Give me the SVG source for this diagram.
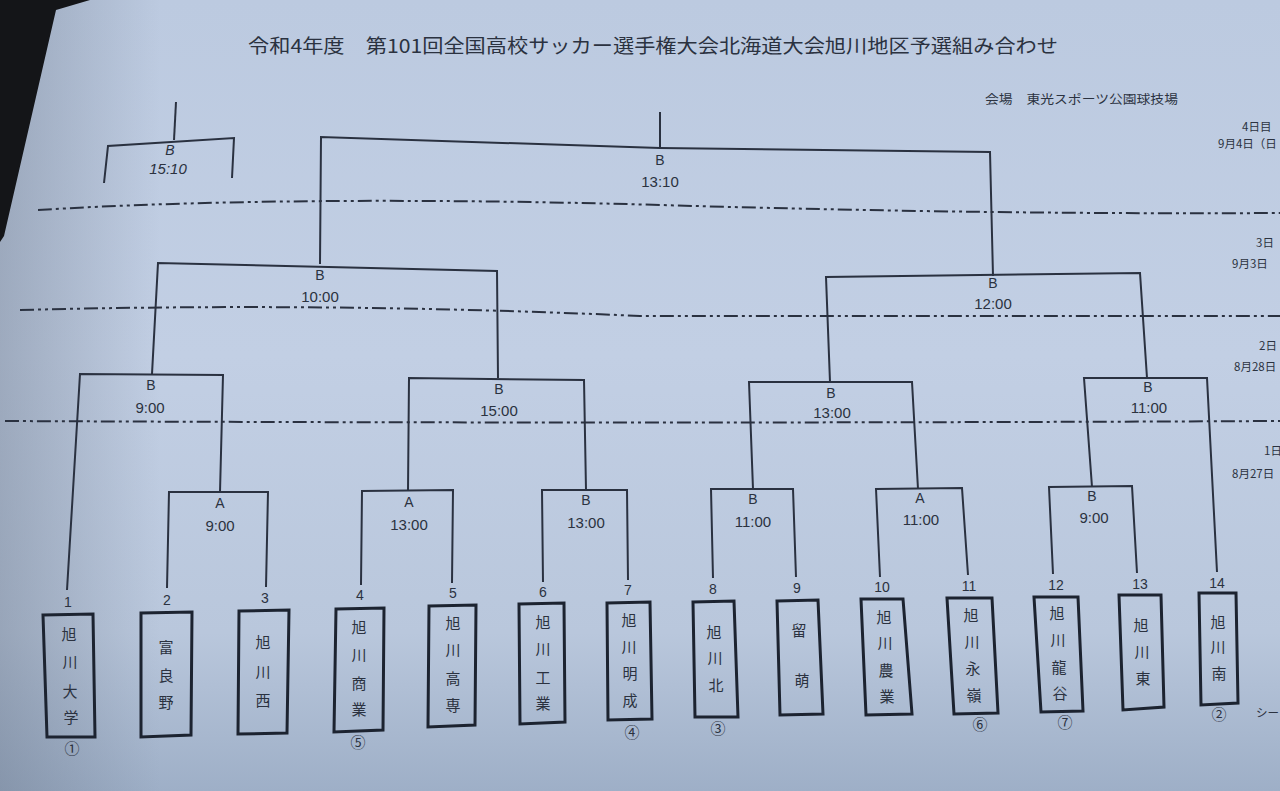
<svg xmlns="http://www.w3.org/2000/svg" width="1280" height="791" viewBox="0 0 1280 791">
<defs>
<linearGradient id="paper" x1="0" y1="0" x2="0" y2="1">
<stop offset="0" stop-color="#bccae0"/>
<stop offset="0.45" stop-color="#c2cfe4"/>
<stop offset="0.8" stop-color="#b9c7dc"/>
<stop offset="1" stop-color="#9eafc7"/>
</linearGradient>
<linearGradient id="leftshade" x1="0" y1="0" x2="1" y2="0">
<stop offset="0" stop-color="#5a6678" stop-opacity="0.35"/>
<stop offset="1" stop-color="#5a6678" stop-opacity="0"/>
</linearGradient>
<style>
.ln{fill:none;stroke:#2a3140;stroke-width:2;stroke-linejoin:miter}
.dd{fill:none;stroke:#2a3140;stroke-width:2;stroke-dasharray:14 4 3 4 3 4}
.box{fill:none;stroke:#1c2330;stroke-width:3}
.lbl{font-family:"Liberation Sans","Noto Sans CJK JP",sans-serif;font-size:14px;fill:#2b3240;text-anchor:middle}
.tm{font-family:"Liberation Sans","Noto Sans CJK JP",sans-serif;font-size:15px;fill:#2b3240;text-anchor:middle}
.num{font-family:"Liberation Sans","Noto Sans CJK JP",sans-serif;font-size:14px;fill:#2b3240;text-anchor:middle}
.jp{font-family:"Noto Sans CJK JP",sans-serif;font-size:15px;fill:#2b3240;text-anchor:middle}
.side{font-family:"Noto Sans CJK JP",sans-serif;font-size:11.5px;fill:#2b3240}
</style>
</defs>
<rect x="0" y="0" width="1280" height="791" fill="url(#paper)"/>
<rect x="0" y="0" width="160" height="791" fill="url(#leftshade)"/>
<polygon points="0,0 90,0 56,10 4,236 0,242" fill="#141518"/>

<g id="title">
<text x="248" y="53" font-family="Noto Sans CJK JP, sans-serif" font-size="19" fill="#2b3240" textLength="810" lengthAdjust="spacingAndGlyphs">令和4年度　第101回全国高校サッカー選手権大会北海道大会旭川地区予選組み合わせ</text>
<text x="985" y="104" font-family="Noto Sans CJK JP, sans-serif" font-size="12.5" fill="#2b3240" textLength="193" lengthAdjust="spacingAndGlyphs">会場　東光スポーツ公園球技場</text>
</g>

<g id="days">
<text class="side" x="1242" y="131">4日目</text>
<text class="side" x="1218" y="148">9月4日（日</text>
<text class="side" x="1256" y="247">3日</text>
<text class="side" x="1232" y="268">9月3日</text>
<text class="side" x="1259" y="350">2日</text>
<text class="side" x="1234" y="371">8月28日</text>
<text class="side" x="1264" y="455">1日</text>
<text class="side" x="1232" y="478">8月27日</text>
<text class="side" x="1256" y="717">シー</text>
</g>

<g id="dividers">
<path class="dd" d="M38,210 C200,200 420,198 660,205 S1100,214 1280,213"/>
<path class="dd" d="M20,310 Q330,302 640,316 L1280,316"/>
<path class="dd" d="M5,421 Q640,424 1280,421"/>
</g>

<g id="connectors">
<path class="ln" d="M176,102 L174,140"/>
<path class="ln" d="M104,183 L108,146 L234,138 L232,178"/>
<path class="ln" d="M660,112 L660,148"/>
<path class="ln" d="M320,264 L321,137 L660,148 L990,152 L993,276"/>
<path class="ln" d="M152,374 L158,263 L497,271 L498,378"/>
<path class="ln" d="M830,382 L826,277 L1140,273 L1147,378"/>
<path class="ln" d="M67,590 L80,374 L223,375 L220,492"/>
<path class="ln" d="M167,588 L169,492 L268,492 L266,587"/>
<path class="ln" d="M408,491 L409,378 L584,380 L586,490"/>
<path class="ln" d="M361,585 L362,491 L453,490 L452,583"/>
<path class="ln" d="M543,582 L542,490 L627,490 L628,580"/>
<path class="ln" d="M753,489 L749,382 L912,382 L918,489"/>
<path class="ln" d="M713,578 L711,489 L793,489 L796,577"/>
<path class="ln" d="M880,577 L876,489 L962,488 L968,575"/>
<path class="ln" d="M1092,487 L1084,378 L1207,378 L1217,572"/>
<path class="ln" d="M1053,574 L1049,487 L1132,486 L1137,573"/>
</g>

<g id="m-sf0"><text class="lbl" x="170" y="155" font-style="italic">B</text><text class="tm" x="168" y="174" font-style="italic">15:10</text></g>
<g id="m-final"><text class="lbl" x="660" y="165">B</text><text class="tm" x="660" y="187">13:10</text></g>
<g id="m-sf1"><text class="lbl" x="320" y="280">B</text><text class="tm" x="320" y="302">10:00</text></g>
<g id="m-sf2"><text class="lbl" x="993" y="288">B</text><text class="tm" x="993" y="309">12:00</text></g>
<g id="m-qf1"><text class="lbl" x="151" y="390">B</text><text class="tm" x="150" y="413">9:00</text></g>
<g id="m-qf2"><text class="lbl" x="499" y="394">B</text><text class="tm" x="499" y="416">15:00</text></g>
<g id="m-qf3"><text class="lbl" x="831" y="398">B</text><text class="tm" x="832" y="418">13:00</text></g>
<g id="m-qf4"><text class="lbl" x="1148" y="392">B</text><text class="tm" x="1149" y="413">11:00</text></g>
<g id="m-r1a"><text class="lbl" x="220" y="508">A</text><text class="tm" x="220" y="531">9:00</text></g>
<g id="m-r1b"><text class="lbl" x="409" y="507">A</text><text class="tm" x="409" y="530">13:00</text></g>
<g id="m-r1c"><text class="lbl" x="586" y="505">B</text><text class="tm" x="586" y="528">13:00</text></g>
<g id="m-r1d"><text class="lbl" x="753" y="504">B</text><text class="tm" x="753" y="527">11:00</text></g>
<g id="m-r1e"><text class="lbl" x="920" y="503">A</text><text class="tm" x="921" y="525">11:00</text></g>
<g id="m-r1f"><text class="lbl" x="1092" y="501">B</text><text class="tm" x="1094" y="523">9:00</text></g>

<g id="team1"><text class="num" x="68" y="607">1</text><polygon class="box" points="43,615 93,614 95,737 47,737"/>
<text class="jp"><tspan x="69" y="640">旭</tspan><tspan x="70" y="668">川</tspan><tspan x="70" y="697">大</tspan><tspan x="71" y="723">学</tspan></text><text class="jp" x="72" y="754">①</text></g>
<g id="team2"><text class="num" x="167" y="605">2</text><polygon class="box" points="141,613 192,612 191,735 141,737"/>
<text class="jp"><tspan x="166" y="653">富</tspan><tspan x="166" y="681">良</tspan><tspan x="166" y="708">野</tspan></text></g>
<g id="team3"><text class="num" x="265" y="603">3</text><polygon class="box" points="239,611 289,610 287,733 238,734"/>
<text class="jp"><tspan x="263" y="648">旭</tspan><tspan x="263" y="678">川</tspan><tspan x="263" y="706">西</tspan></text></g>
<g id="team4"><text class="num" x="360" y="600">4</text><polygon class="box" points="336,609 384,608 383,730 334,732"/>
<text class="jp"><tspan x="359" y="633">旭</tspan><tspan x="359" y="661">川</tspan><tspan x="359" y="689">商</tspan><tspan x="359" y="715">業</tspan></text><text class="jp" x="358" y="748">⑤</text></g>
<g id="team5"><text class="num" x="453" y="598">5</text><polygon class="box" points="429,606 476,605 475,725 428,727"/>
<text class="jp"><tspan x="453" y="629">旭</tspan><tspan x="453" y="656">川</tspan><tspan x="453" y="684">高</tspan><tspan x="453" y="711">専</tspan></text></g>
<g id="team6"><text class="num" x="543" y="597">6</text><polygon class="box" points="519,604 564,603 565,722 520,724"/>
<text class="jp"><tspan x="543" y="628">旭</tspan><tspan x="543" y="655">川</tspan><tspan x="543" y="683">工</tspan><tspan x="543" y="709">業</tspan></text></g>
<g id="team7"><text class="num" x="628" y="595">7</text><polygon class="box" points="607,603 650,602 652,719 608,720"/>
<text class="jp"><tspan x="629" y="626">旭</tspan><tspan x="629" y="653">川</tspan><tspan x="630" y="679">明</tspan><tspan x="630" y="706">成</tspan></text><text class="jp" x="632" y="738">④</text></g>
<g id="team8"><text class="num" x="713" y="594">8</text><polygon class="box" points="693,602 734,601 738,717 695,717"/>
<text class="jp"><tspan x="714" y="638">旭</tspan><tspan x="715" y="664">川</tspan><tspan x="716" y="691">北</tspan></text><text class="jp" x="718" y="734">③</text></g>
<g id="team9"><text class="num" x="797" y="593">9</text><polygon class="box" points="777,601 818,600 823,714 780,715"/>
<text class="jp"><tspan x="799" y="636">留</tspan><tspan x="802" y="686">萌</tspan></text></g>
<g id="team10"><text class="num" x="882" y="592">10</text><polygon class="box" points="861,599 903,599 912,714 866,715"/>
<text class="jp"><tspan x="884" y="623">旭</tspan><tspan x="885" y="649">川</tspan><tspan x="886" y="676">農</tspan><tspan x="887" y="702">業</tspan></text></g>
<g id="team11"><text class="num" x="969" y="591">11</text><polygon class="box" points="947,598 992,598 998,713 954,714"/>
<text class="jp"><tspan x="971" y="621">旭</tspan><tspan x="972" y="648">川</tspan><tspan x="973" y="674">永</tspan><tspan x="974" y="701">嶺</tspan></text><text class="jp" x="980" y="730">⑥</text></g>
<g id="team12"><text class="num" x="1056" y="590">12</text><polygon class="box" points="1034,597 1078,597 1083,711 1041,712"/>
<text class="jp"><tspan x="1057" y="619">旭</tspan><tspan x="1058" y="646">川</tspan><tspan x="1059" y="673">龍</tspan><tspan x="1060" y="699">谷</tspan></text><text class="jp" x="1065" y="728">⑦</text></g>
<g id="team13"><text class="num" x="1140" y="589">13</text><polygon class="box" points="1119,595 1161,595 1164,707 1123,710"/>
<text class="jp"><tspan x="1141" y="631">旭</tspan><tspan x="1142" y="658">川</tspan><tspan x="1143" y="684">東</tspan></text></g>
<g id="team14"><text class="num" x="1217" y="588">14</text><polygon class="box" points="1199,593 1236,593 1238,703 1201,705"/>
<text class="jp"><tspan x="1218" y="628">旭</tspan><tspan x="1218" y="653">川</tspan><tspan x="1219" y="679">南</tspan></text><text class="jp" x="1219" y="720">②</text></g>
</svg>
